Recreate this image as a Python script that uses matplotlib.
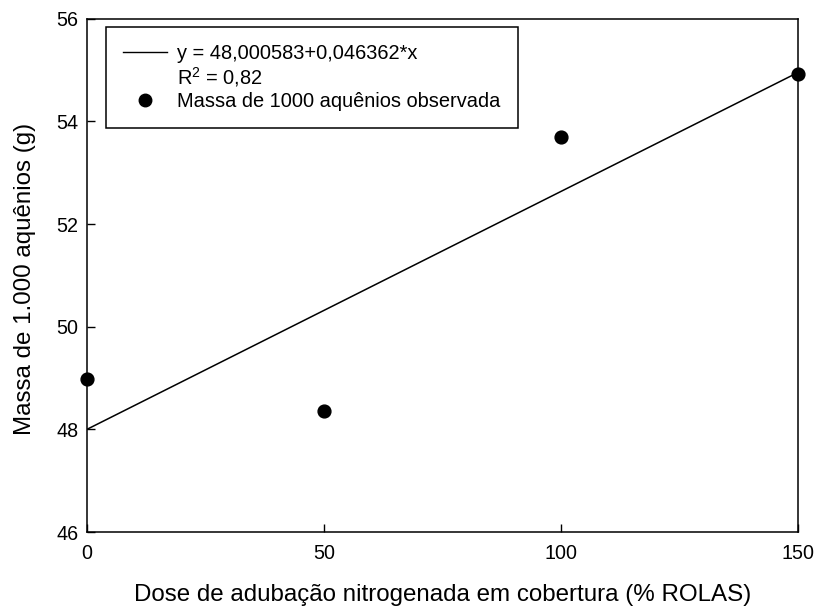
import numpy as np
import matplotlib
matplotlib.use('Agg')
import matplotlib.pyplot as plt
from matplotlib.lines import Line2D

plt.rcParams['font.family'] = ['Liberation Sans', 'DejaVu Sans']
plt.rcParams['mathtext.fontset'] = 'custom'
plt.rcParams['mathtext.rm'] = 'Liberation Sans'
plt.rcParams['mathtext.it'] = 'Liberation Sans:italic'

# dados observados
doses = [0, 50, 100, 150]
massa = [48.99, 48.36, 53.70, 54.92]

# coeficientes da regressão
intercepto = 48.000583
inclinacao = 0.046362
r2_texto = '0,82'

fig = plt.figure(figsize=(8.16, 6.08), dpi=100)
ax = fig.add_axes([0.1066, 0.125, 0.8713, 0.844])

x_linha = np.array([min(doses), max(doses)])
y_linha = intercepto + inclinacao * x_linha
ax.plot(x_linha, y_linha, color='black', linewidth=1.1)
ax.scatter(doses, massa, s=85, color='black', zorder=3, clip_on=False)

ax.set_xlim(0, 150)
ax.set_ylim(46, 56)
ax.set_xticks([0, 50, 100, 150])
ax.set_yticks([46, 48, 50, 52, 54, 56])
ax.tick_params(direction='in', length=6, width=1, labelsize=14.2)
ax.tick_params(axis='x', pad=8.5)
ax.tick_params(axis='y', pad=6)
for s in ax.spines.values():
    s.set_linewidth(1.1)

ax.set_xlabel('Dose de adubação nitrogenada em cobertura (% ROLAS)', fontsize=17.4)
ax.set_ylabel('Massa de 1.000 aquênios (g)', fontsize=17.4)
ax.xaxis.set_label_coords(0.5, -0.102)
ax.yaxis.set_label_coords(-0.072, 0.493)

handles = [
    Line2D([], [], color='black', linewidth=1),
    Line2D([], [], linestyle='none'),
    Line2D([], [], marker='o', color='black', linestyle='none', markersize=9),
]
labels = [
    'y = 48,000583+0,046362*x',
    'R$^2$ = ' + r2_texto,
    'Massa de 1000 aquênios observada',
]
leg = ax.legend(handles, labels, loc='upper left', bbox_to_anchor=(0.027, 0.984),
                fontsize=14.4, frameon=True, fancybox=False, edgecolor='black',
                framealpha=1, labelspacing=0.12, handlelength=2.2, handletextpad=0.5,
                borderpad=0.85, borderaxespad=0)
leg.get_frame().set_linewidth(1.1)

fig.savefig('out.png', dpi=100)
